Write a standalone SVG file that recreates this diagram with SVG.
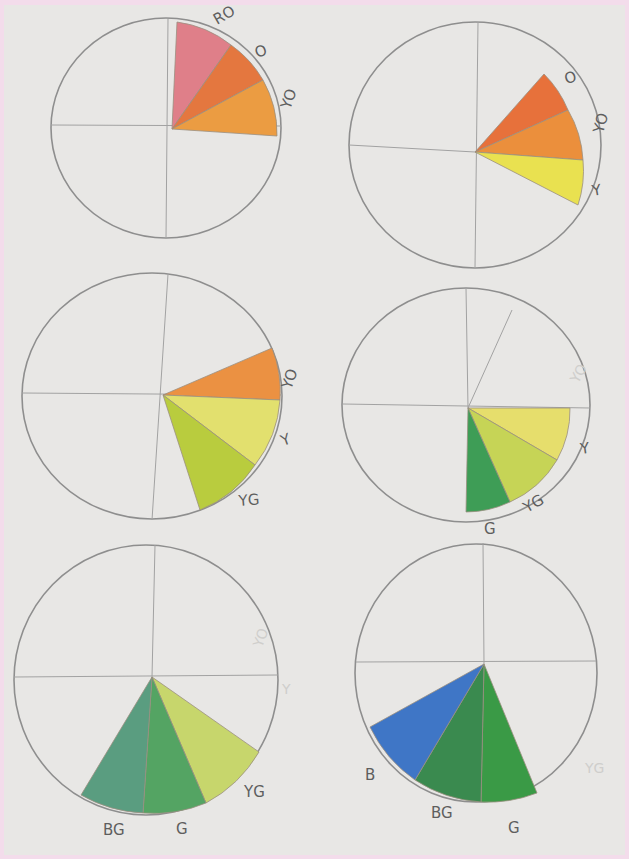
<svg xmlns="http://www.w3.org/2000/svg" width="629" height="859" viewBox="0 0 629 859">
<style>
.rim{fill:none;stroke:#8e8e8e;stroke-width:1.6}
.ax{fill:none;stroke:#a2a2a2;stroke-width:1}
.w{stroke:#9a8f80;stroke-width:0.8;stroke-linejoin:round}
.lb{font-family:"DejaVu Sans",sans-serif;font-size:15px;fill:#5e5e5e}
.gh{font-family:"DejaVu Sans",sans-serif;font-size:14px;fill:#cfcecc}
</style>
<rect x="0" y="0" width="629" height="859" fill="#f3dceb"/>
<rect x="4" y="5" width="621" height="850" fill="#e8e7e5"/>

<g id="wheel1">
<ellipse class="rim" cx="166" cy="128" rx="115" ry="110"/>
<line class="ax" x1="51" y1="125" x2="281" y2="126"/>
<line class="ax" x1="168" y1="19" x2="166" y2="238"/>
<path class="w" fill="#df7f89" d="M172 129 L177 22 A110 110 0 0 1 231 45 Z"/>
<path class="w" fill="#e4773f" d="M172 129 L231 45 A110 110 0 0 1 263 80 Z"/>
<path class="w" fill="#eb9c42" d="M172 129 L263 80 A110 110 0 0 1 277 136 Z"/>
<text class="lb" font-size="12" transform="translate(217,25) rotate(-30)">RO</text>
<text class="lb" transform="translate(257,58) rotate(-20)">O</text>
<text class="lb" transform="translate(290,110) rotate(-70)">YO</text>
</g>

<g id="wheel2">
<ellipse class="rim" cx="475" cy="145" rx="126" ry="123"/>
<line class="ax" x1="349" y1="145" x2="475" y2="152"/>
<line class="ax" x1="478" y1="22" x2="475" y2="268"/>
<path class="w" fill="#e7713b" d="M475 152 L544 74 A110 110 0 0 1 568 110 Z"/>
<path class="w" fill="#eb8f3c" d="M475 152 L568 110 A110 110 0 0 1 583 160 Z"/>
<path class="w" fill="#e9e150" d="M475 152 L583 160 A110 110 0 0 1 578 205 Z"/>
<text class="lb" transform="translate(566,84) rotate(-15)">O</text>
<text class="lb" transform="translate(603,134) rotate(-75)">YO</text>
<text class="lb" transform="translate(593,196) rotate(-10)">Y</text>
</g>

<g id="wheel3">
<ellipse class="rim" cx="152" cy="396" rx="130" ry="123"/>
<line class="ax" x1="22" y1="393" x2="282" y2="395"/>
<line class="ax" x1="168" y1="274" x2="152" y2="520"/>
<path class="w" fill="#eb9142" d="M163 395 L272 348 A118 118 0 0 1 280 400 Z"/>
<path class="w" fill="#e2e06e" d="M163 395 L280 400 A118 118 0 0 1 255 465 Z"/>
<path class="w" fill="#b9cc3e" d="M163 395 L255 465 A118 118 0 0 1 200 510 Z"/>
<text class="lb" transform="translate(291,390) rotate(-70)">YO</text>
<text class="lb" transform="translate(283,446) rotate(-20)">Y</text>
<text class="lb" transform="translate(239,506) rotate(-5)">YG</text>
</g>

<g id="wheel4">
<ellipse class="rim" cx="466" cy="405" rx="124" ry="117"/>
<line class="ax" x1="343" y1="404" x2="590" y2="408"/>
<line class="ax" x1="466" y1="288" x2="468" y2="408"/>
<line class="ax" x1="468" y1="408" x2="512" y2="310" stroke="#c4c4c4"/>
<path class="w" fill="#e6de6c" d="M468 408 L570 408 A103 103 0 0 1 557 460 Z"/>
<path class="w" fill="#c6d456" d="M468 408 L557 460 A103 103 0 0 1 510 502 Z"/>
<path class="w" fill="#3e9d56" d="M468 408 L510 502 A103 103 0 0 1 466 512 Z"/>
<text class="gh" transform="translate(578,384) rotate(-60)">YO</text>
<text class="lb" font-size="20" transform="translate(581,454) rotate(-8)">Y</text>
<text class="lb" transform="translate(527,513) rotate(-30)">YG</text>
<text class="lb" x="484" y="534">G</text>
</g>

<g id="wheel5">
<ellipse class="rim" cx="146" cy="680" rx="132" ry="135"/>
<line class="ax" x1="14" y1="677" x2="278" y2="675"/>
<line class="ax" x1="155" y1="545" x2="152" y2="677"/>
<path class="w" fill="#c7d66c" d="M152 677 L259 752 A136 136 0 0 1 206 803 Z"/>
<path class="w" fill="#54a463" d="M152 677 L206 803 A136 136 0 0 1 143 813 Z"/>
<path class="w" fill="#5a9d80" d="M152 677 L143 813 A136 136 0 0 1 81 795 Z"/>
<text class="gh" transform="translate(262,648) rotate(-70)">YO</text>
<text class="gh" x="282" y="694">Y</text>
<text class="lb" x="103" y="835">BG</text>
<text class="lb" x="176" y="834">G</text>
<text class="lb" x="244" y="797">YG</text>
</g>

<g id="wheel6">
<ellipse class="rim" cx="476" cy="673" rx="121" ry="129"/>
<line class="ax" x1="356" y1="662" x2="596" y2="661"/>
<line class="ax" x1="483" y1="543" x2="484" y2="664"/>
<path class="w" fill="#3a9a46" d="M484 664 L537 793 A136 136 0 0 1 481 802 Z"/>
<path class="w" fill="#3a8a4f" d="M484 664 L481 802 A136 136 0 0 1 415 780 Z"/>
<path class="w" fill="#3f76c6" d="M484 664 L415 780 A136 136 0 0 1 370 727 Z"/>
<text class="gh" x="585" y="773">YG</text>
<text class="lb" x="365" y="780">B</text>
<text class="lb" x="431" y="818">BG</text>
<text class="lb" x="508" y="833">G</text>
</g>
</svg>
